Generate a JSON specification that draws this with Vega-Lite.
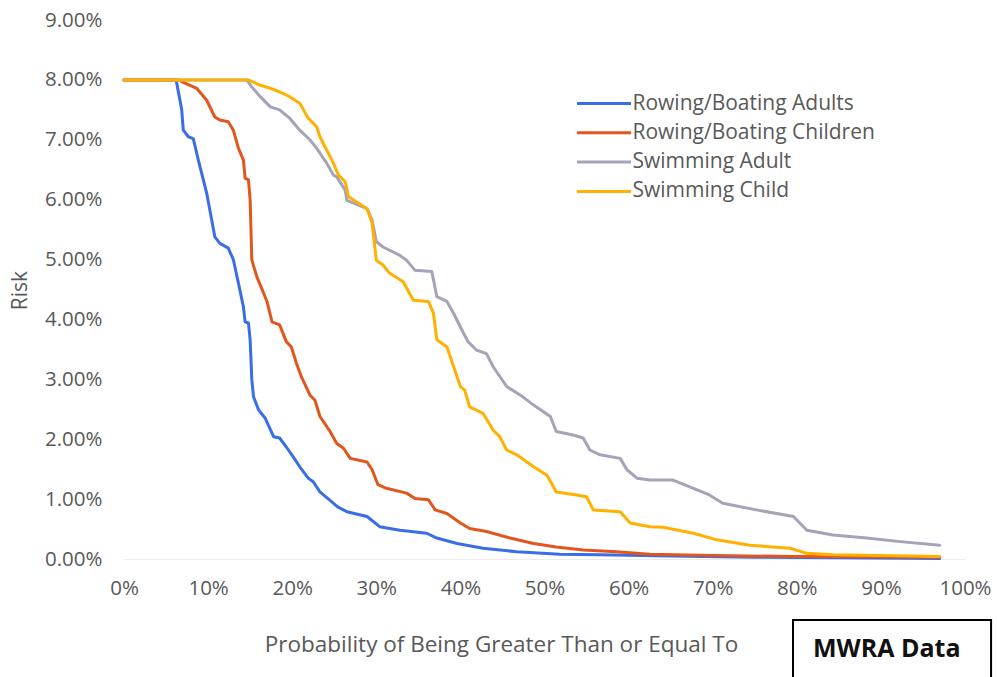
{
  "$schema": "https://vega.github.io/schema/vega-lite/v6.json",
  "width": 841,
  "height": 539,
  "autosize": {"type": "none"},
  "padding": {"left": 124, "top": 20, "right": 32, "bottom": 118},
  "background": "white",
  "config": {"view": {"stroke": null}, "font": "Open Sans"},
  "datasets": {
    "curves": [
      {"series": "Rowing/Boating Adults", "p": 0, "risk": 0.08},
      {"series": "Rowing/Boating Adults", "p": 0.062, "risk": 0.08},
      {"series": "Rowing/Boating Adults", "p": 0.066, "risk": 0.077},
      {"series": "Rowing/Boating Adults", "p": 0.0686, "risk": 0.075},
      {"series": "Rowing/Boating Adults", "p": 0.0705, "risk": 0.0716},
      {"series": "Rowing/Boating Adults", "p": 0.0765, "risk": 0.0705},
      {"series": "Rowing/Boating Adults", "p": 0.0824, "risk": 0.0702},
      {"series": "Rowing/Boating Adults", "p": 0.0884, "risk": 0.0666},
      {"series": "Rowing/Boating Adults", "p": 0.0983, "risk": 0.0611},
      {"series": "Rowing/Boating Adults", "p": 0.108, "risk": 0.0538},
      {"series": "Rowing/Boating Adults", "p": 0.114, "risk": 0.0527},
      {"series": "Rowing/Boating Adults", "p": 0.124, "risk": 0.0519},
      {"series": "Rowing/Boating Adults", "p": 0.130, "risk": 0.0500},
      {"series": "Rowing/Boating Adults", "p": 0.136, "risk": 0.0461},
      {"series": "Rowing/Boating Adults", "p": 0.142, "risk": 0.0421},
      {"series": "Rowing/Boating Adults", "p": 0.144, "risk": 0.0396},
      {"series": "Rowing/Boating Adults", "p": 0.148, "risk": 0.0394},
      {"series": "Rowing/Boating Adults", "p": 0.150, "risk": 0.0366},
      {"series": "Rowing/Boating Adults", "p": 0.152, "risk": 0.0299},
      {"series": "Rowing/Boating Adults", "p": 0.154, "risk": 0.0271},
      {"series": "Rowing/Boating Adults", "p": 0.160, "risk": 0.0249},
      {"series": "Rowing/Boating Adults", "p": 0.168, "risk": 0.0235},
      {"series": "Rowing/Boating Adults", "p": 0.178, "risk": 0.0204},
      {"series": "Rowing/Boating Adults", "p": 0.185, "risk": 0.0202},
      {"series": "Rowing/Boating Adults", "p": 0.193, "risk": 0.0187},
      {"series": "Rowing/Boating Adults", "p": 0.201, "risk": 0.0171},
      {"series": "Rowing/Boating Adults", "p": 0.209, "risk": 0.0154},
      {"series": "Rowing/Boating Adults", "p": 0.219, "risk": 0.0135},
      {"series": "Rowing/Boating Adults", "p": 0.225, "risk": 0.0129},
      {"series": "Rowing/Boating Adults", "p": 0.233, "risk": 0.0112},
      {"series": "Rowing/Boating Adults", "p": 0.245, "risk": 0.0098},
      {"series": "Rowing/Boating Adults", "p": 0.254, "risk": 0.0087},
      {"series": "Rowing/Boating Adults", "p": 0.265, "risk": 0.0079},
      {"series": "Rowing/Boating Adults", "p": 0.289, "risk": 0.0071},
      {"series": "Rowing/Boating Adults", "p": 0.304, "risk": 0.0054},
      {"series": "Rowing/Boating Adults", "p": 0.328, "risk": 0.0048},
      {"series": "Rowing/Boating Adults", "p": 0.360, "risk": 0.0043},
      {"series": "Rowing/Boating Adults", "p": 0.372, "risk": 0.0035},
      {"series": "Rowing/Boating Adults", "p": 0.396, "risk": 0.0026},
      {"series": "Rowing/Boating Adults", "p": 0.427, "risk": 0.0018},
      {"series": "Rowing/Boating Adults", "p": 0.467, "risk": 0.0012},
      {"series": "Rowing/Boating Adults", "p": 0.518, "risk": 0.0008},
      {"series": "Rowing/Boating Adults", "p": 0.566, "risk": 0.0007},
      {"series": "Rowing/Boating Adults", "p": 0.65, "risk": 0.0005},
      {"series": "Rowing/Boating Adults", "p": 0.75, "risk": 0.0003},
      {"series": "Rowing/Boating Adults", "p": 0.85, "risk": 0.0002},
      {"series": "Rowing/Boating Adults", "p": 0.97, "risk": 0.0001},

      {"series": "Rowing/Boating Children", "p": 0, "risk": 0.08},
      {"series": "Rowing/Boating Children", "p": 0.066, "risk": 0.08},
      {"series": "Rowing/Boating Children", "p": 0.0686, "risk": 0.0797},
      {"series": "Rowing/Boating Children", "p": 0.0864, "risk": 0.0786},
      {"series": "Rowing/Boating Children", "p": 0.0983, "risk": 0.0766},
      {"series": "Rowing/Boating Children", "p": 0.108, "risk": 0.0738},
      {"series": "Rowing/Boating Children", "p": 0.114, "risk": 0.0733},
      {"series": "Rowing/Boating Children", "p": 0.124, "risk": 0.0730},
      {"series": "Rowing/Boating Children", "p": 0.130, "risk": 0.0716},
      {"series": "Rowing/Boating Children", "p": 0.136, "risk": 0.0686},
      {"series": "Rowing/Boating Children", "p": 0.142, "risk": 0.0666},
      {"series": "Rowing/Boating Children", "p": 0.144, "risk": 0.0636},
      {"series": "Rowing/Boating Children", "p": 0.148, "risk": 0.0633},
      {"series": "Rowing/Boating Children", "p": 0.150, "risk": 0.0599},
      {"series": "Rowing/Boating Children", "p": 0.152, "risk": 0.0499},
      {"series": "Rowing/Boating Children", "p": 0.158, "risk": 0.0471},
      {"series": "Rowing/Boating Children", "p": 0.166, "risk": 0.0444},
      {"series": "Rowing/Boating Children", "p": 0.170, "risk": 0.0430},
      {"series": "Rowing/Boating Children", "p": 0.176, "risk": 0.0396},
      {"series": "Rowing/Boating Children", "p": 0.185, "risk": 0.0391},
      {"series": "Rowing/Boating Children", "p": 0.193, "risk": 0.0363},
      {"series": "Rowing/Boating Children", "p": 0.199, "risk": 0.0354},
      {"series": "Rowing/Boating Children", "p": 0.205, "risk": 0.0327},
      {"series": "Rowing/Boating Children", "p": 0.211, "risk": 0.0304},
      {"series": "Rowing/Boating Children", "p": 0.221, "risk": 0.0274},
      {"series": "Rowing/Boating Children", "p": 0.227, "risk": 0.0265},
      {"series": "Rowing/Boating Children", "p": 0.233, "risk": 0.0238},
      {"series": "Rowing/Boating Children", "p": 0.245, "risk": 0.0213},
      {"series": "Rowing/Boating Children", "p": 0.253, "risk": 0.0193},
      {"series": "Rowing/Boating Children", "p": 0.261, "risk": 0.0185},
      {"series": "Rowing/Boating Children", "p": 0.269, "risk": 0.0168},
      {"series": "Rowing/Boating Children", "p": 0.289, "risk": 0.0162},
      {"series": "Rowing/Boating Children", "p": 0.295, "risk": 0.0149},
      {"series": "Rowing/Boating Children", "p": 0.302, "risk": 0.0124},
      {"series": "Rowing/Boating Children", "p": 0.312, "risk": 0.0118},
      {"series": "Rowing/Boating Children", "p": 0.336, "risk": 0.0110},
      {"series": "Rowing/Boating Children", "p": 0.346, "risk": 0.0101},
      {"series": "Rowing/Boating Children", "p": 0.362, "risk": 0.0099},
      {"series": "Rowing/Boating Children", "p": 0.370, "risk": 0.0082},
      {"series": "Rowing/Boating Children", "p": 0.384, "risk": 0.0076},
      {"series": "Rowing/Boating Children", "p": 0.400, "risk": 0.0060},
      {"series": "Rowing/Boating Children", "p": 0.411, "risk": 0.0051},
      {"series": "Rowing/Boating Children", "p": 0.431, "risk": 0.0046},
      {"series": "Rowing/Boating Children", "p": 0.459, "risk": 0.0035},
      {"series": "Rowing/Boating Children", "p": 0.487, "risk": 0.0026},
      {"series": "Rowing/Boating Children", "p": 0.514, "risk": 0.0020},
      {"series": "Rowing/Boating Children", "p": 0.546, "risk": 0.0015},
      {"series": "Rowing/Boating Children", "p": 0.586, "risk": 0.0012},
      {"series": "Rowing/Boating Children", "p": 0.625, "risk": 0.0008},
      {"series": "Rowing/Boating Children", "p": 0.70, "risk": 0.0006},
      {"series": "Rowing/Boating Children", "p": 0.80, "risk": 0.0004},
      {"series": "Rowing/Boating Children", "p": 0.97, "risk": 0.0003},

      {"series": "Swimming Adult", "p": 0, "risk": 0.08},
      {"series": "Swimming Adult", "p": 0.146, "risk": 0.08},
      {"series": "Swimming Adult", "p": 0.152, "risk": 0.0788},
      {"series": "Swimming Adult", "p": 0.162, "risk": 0.0772},
      {"series": "Swimming Adult", "p": 0.174, "risk": 0.0755},
      {"series": "Swimming Adult", "p": 0.185, "risk": 0.0750},
      {"series": "Swimming Adult", "p": 0.197, "risk": 0.0736},
      {"series": "Swimming Adult", "p": 0.209, "risk": 0.0716},
      {"series": "Swimming Adult", "p": 0.221, "risk": 0.0700},
      {"series": "Swimming Adult", "p": 0.229, "risk": 0.0686},
      {"series": "Swimming Adult", "p": 0.241, "risk": 0.0661},
      {"series": "Swimming Adult", "p": 0.249, "risk": 0.0641},
      {"series": "Swimming Adult", "p": 0.253, "risk": 0.0638},
      {"series": "Swimming Adult", "p": 0.263, "risk": 0.0616},
      {"series": "Swimming Adult", "p": 0.265, "risk": 0.0599},
      {"series": "Swimming Adult", "p": 0.289, "risk": 0.0585},
      {"series": "Swimming Adult", "p": 0.295, "risk": 0.0566},
      {"series": "Swimming Adult", "p": 0.300, "risk": 0.0530},
      {"series": "Swimming Adult", "p": 0.308, "risk": 0.0521},
      {"series": "Swimming Adult", "p": 0.328, "risk": 0.0507},
      {"series": "Swimming Adult", "p": 0.336, "risk": 0.0499},
      {"series": "Swimming Adult", "p": 0.346, "risk": 0.0482},
      {"series": "Swimming Adult", "p": 0.366, "risk": 0.0480},
      {"series": "Swimming Adult", "p": 0.372, "risk": 0.0438},
      {"series": "Swimming Adult", "p": 0.384, "risk": 0.0430},
      {"series": "Swimming Adult", "p": 0.392, "risk": 0.0410},
      {"series": "Swimming Adult", "p": 0.403, "risk": 0.0379},
      {"series": "Swimming Adult", "p": 0.409, "risk": 0.0363},
      {"series": "Swimming Adult", "p": 0.419, "risk": 0.0349},
      {"series": "Swimming Adult", "p": 0.431, "risk": 0.0343},
      {"series": "Swimming Adult", "p": 0.439, "risk": 0.0321},
      {"series": "Swimming Adult", "p": 0.455, "risk": 0.0288},
      {"series": "Swimming Adult", "p": 0.471, "risk": 0.0274},
      {"series": "Swimming Adult", "p": 0.487, "risk": 0.0257},
      {"series": "Swimming Adult", "p": 0.507, "risk": 0.0238},
      {"series": "Swimming Adult", "p": 0.514, "risk": 0.0213},
      {"series": "Swimming Adult", "p": 0.534, "risk": 0.0207},
      {"series": "Swimming Adult", "p": 0.546, "risk": 0.0202},
      {"series": "Swimming Adult", "p": 0.554, "risk": 0.0182},
      {"series": "Swimming Adult", "p": 0.566, "risk": 0.0174},
      {"series": "Swimming Adult", "p": 0.590, "risk": 0.0168},
      {"series": "Swimming Adult", "p": 0.598, "risk": 0.0149},
      {"series": "Swimming Adult", "p": 0.610, "risk": 0.0135},
      {"series": "Swimming Adult", "p": 0.625, "risk": 0.0132},
      {"series": "Swimming Adult", "p": 0.652, "risk": 0.0132},
      {"series": "Swimming Adult", "p": 0.672, "risk": 0.0121},
      {"series": "Swimming Adult", "p": 0.696, "risk": 0.0107},
      {"series": "Swimming Adult", "p": 0.712, "risk": 0.0093},
      {"series": "Swimming Adult", "p": 0.752, "risk": 0.0082},
      {"series": "Swimming Adult", "p": 0.796, "risk": 0.0071},
      {"series": "Swimming Adult", "p": 0.812, "risk": 0.0048},
      {"series": "Swimming Adult", "p": 0.843, "risk": 0.0040},
      {"series": "Swimming Adult", "p": 0.883, "risk": 0.0035},
      {"series": "Swimming Adult", "p": 0.923, "risk": 0.0029},
      {"series": "Swimming Adult", "p": 0.970, "risk": 0.0023},

      {"series": "Swimming Child", "p": 0, "risk": 0.08},
      {"series": "Swimming Child", "p": 0.148, "risk": 0.08},
      {"series": "Swimming Child", "p": 0.162, "risk": 0.0791},
      {"series": "Swimming Child", "p": 0.174, "risk": 0.0786},
      {"series": "Swimming Child", "p": 0.185, "risk": 0.0780},
      {"series": "Swimming Child", "p": 0.197, "risk": 0.0772},
      {"series": "Swimming Child", "p": 0.209, "risk": 0.0761},
      {"series": "Swimming Child", "p": 0.219, "risk": 0.0736},
      {"series": "Swimming Child", "p": 0.229, "risk": 0.0722},
      {"series": "Swimming Child", "p": 0.233, "risk": 0.0705},
      {"series": "Swimming Child", "p": 0.241, "risk": 0.0683},
      {"series": "Swimming Child", "p": 0.249, "risk": 0.0661},
      {"series": "Swimming Child", "p": 0.255, "risk": 0.0641},
      {"series": "Swimming Child", "p": 0.263, "risk": 0.0630},
      {"series": "Swimming Child", "p": 0.267, "risk": 0.0605},
      {"series": "Swimming Child", "p": 0.289, "risk": 0.0585},
      {"series": "Swimming Child", "p": 0.295, "risk": 0.0561},
      {"series": "Swimming Child", "p": 0.300, "risk": 0.0499},
      {"series": "Swimming Child", "p": 0.308, "risk": 0.0491},
      {"series": "Swimming Child", "p": 0.316, "risk": 0.0477},
      {"series": "Swimming Child", "p": 0.332, "risk": 0.0463},
      {"series": "Swimming Child", "p": 0.344, "risk": 0.0432},
      {"series": "Swimming Child", "p": 0.362, "risk": 0.0430},
      {"series": "Swimming Child", "p": 0.368, "risk": 0.0410},
      {"series": "Swimming Child", "p": 0.372, "risk": 0.0366},
      {"series": "Swimming Child", "p": 0.384, "risk": 0.0354},
      {"series": "Swimming Child", "p": 0.392, "risk": 0.0321},
      {"series": "Swimming Child", "p": 0.400, "risk": 0.0288},
      {"series": "Swimming Child", "p": 0.405, "risk": 0.0282},
      {"series": "Swimming Child", "p": 0.411, "risk": 0.0254},
      {"series": "Swimming Child", "p": 0.427, "risk": 0.0243},
      {"series": "Swimming Child", "p": 0.439, "risk": 0.0215},
      {"series": "Swimming Child", "p": 0.447, "risk": 0.0204},
      {"series": "Swimming Child", "p": 0.455, "risk": 0.0182},
      {"series": "Swimming Child", "p": 0.467, "risk": 0.0174},
      {"series": "Swimming Child", "p": 0.487, "risk": 0.0154},
      {"series": "Swimming Child", "p": 0.503, "risk": 0.0140},
      {"series": "Swimming Child", "p": 0.514, "risk": 0.0112},
      {"series": "Swimming Child", "p": 0.538, "risk": 0.0107},
      {"series": "Swimming Child", "p": 0.550, "risk": 0.0104},
      {"series": "Swimming Child", "p": 0.558, "risk": 0.0082},
      {"series": "Swimming Child", "p": 0.590, "risk": 0.0079},
      {"series": "Swimming Child", "p": 0.602, "risk": 0.0060},
      {"series": "Swimming Child", "p": 0.625, "risk": 0.0054},
      {"series": "Swimming Child", "p": 0.641, "risk": 0.0053},
      {"series": "Swimming Child", "p": 0.677, "risk": 0.0043},
      {"series": "Swimming Child", "p": 0.705, "risk": 0.0032},
      {"series": "Swimming Child", "p": 0.744, "risk": 0.0023},
      {"series": "Swimming Child", "p": 0.792, "risk": 0.0018},
      {"series": "Swimming Child", "p": 0.812, "risk": 0.00095},
      {"series": "Swimming Child", "p": 0.843, "risk": 0.0007},
      {"series": "Swimming Child", "p": 0.970, "risk": 0.0004}
    ],
    "note": [{"label": "MWRA Data"}]
  },
  "layer": [
    {
      "data": {"name": "curves"},
      "mark": {"type": "line", "strokeWidth": 3, "strokeJoin": "round", "strokeCap": "round"},
      "encoding": {
        "x": {
          "field": "p", "type": "quantitative",
          "scale": {"domain": [0, 1], "nice": false, "zero": false},
          "axis": {
            "title": "Probability of Being Greater Than or Equal To",
            "format": ".0%",
            "values": [0, 0.1, 0.2, 0.3, 0.4, 0.5, 0.6, 0.7, 0.8, 0.9, 1],
            "grid": false, "ticks": false,
            "domain": true, "domainColor": "#ececec", "domainWidth": 1,
            "labelFontSize": 20.5, "labelColor": "#595959", "labelPadding": 19,
            "labelFlush": false, "labelOverlap": false, "labelBound": false,
            "titleFontSize": 22.5, "titleFontWeight": "normal", "titleColor": "#595959",
            "titleX": 377, "titleY": 85, "titleBaseline": "middle", "titleAlign": "center"
          }
        },
        "y": {
          "field": "risk", "type": "quantitative",
          "scale": {"domain": [0, 0.09], "nice": false},
          "axis": {
            "title": "Risk",
            "format": ".2%",
            "values": [0, 0.01, 0.02, 0.03, 0.04, 0.05, 0.06, 0.07, 0.08, 0.09],
            "grid": false, "ticks": false, "domain": false,
            "labelFontSize": 20.5, "labelColor": "#595959", "labelPadding": 22,
            "labelOverlap": false, "labelBound": false, "labelFlush": false,
            "titleFontSize": 21, "titleFontWeight": "normal", "titleColor": "#595959",
            "titleX": -104, "titleY": 270, "titleBaseline": "middle", "titleAlign": "center"
          }
        },
        "color": {
          "field": "series", "type": "nominal",
          "scale": {
            "domain": ["Rowing/Boating Adults", "Rowing/Boating Children", "Swimming Adult", "Swimming Child"],
            "range": ["#3a6ee6", "#e2561e", "#a3a3ba", "#ffb000"]
          },
          "legend": {
            "orient": "none", "legendX": 469.5, "legendY": 73,
            "title": null, "padding": 0,
            "symbolType": "M-3,0H3", "symbolSize": 324, "symbolStrokeWidth": 3,
            "labelFontSize": 21, "labelColor": "#595959", "labelOffset": 18,
            "labelLimit": 400, "rowPadding": 7.3
          }
        }
      }
    },
    {
      "data": {"name": "note"},
      "mark": {"type": "rect", "fill": "white", "stroke": "black", "strokeWidth": 2},
      "encoding": {
        "x": {"datum": 0.7955, "type": "quantitative"},
        "x2": {"datum": 1.031},
        "y": {"datum": -0.0102, "type": "quantitative"},
        "y2": {"datum": -0.021}
      }
    },
    {
      "data": {"name": "note"},
      "mark": {"type": "text", "fontSize": 25, "fontWeight": "bold", "color": "#111111", "align": "center", "baseline": "middle", "font": "Open Sans"},
      "encoding": {
        "x": {"datum": 0.907, "type": "quantitative"},
        "y": {"datum": -0.0151, "type": "quantitative"},
        "text": {"field": "label"}
      }
    }
  ]
}
